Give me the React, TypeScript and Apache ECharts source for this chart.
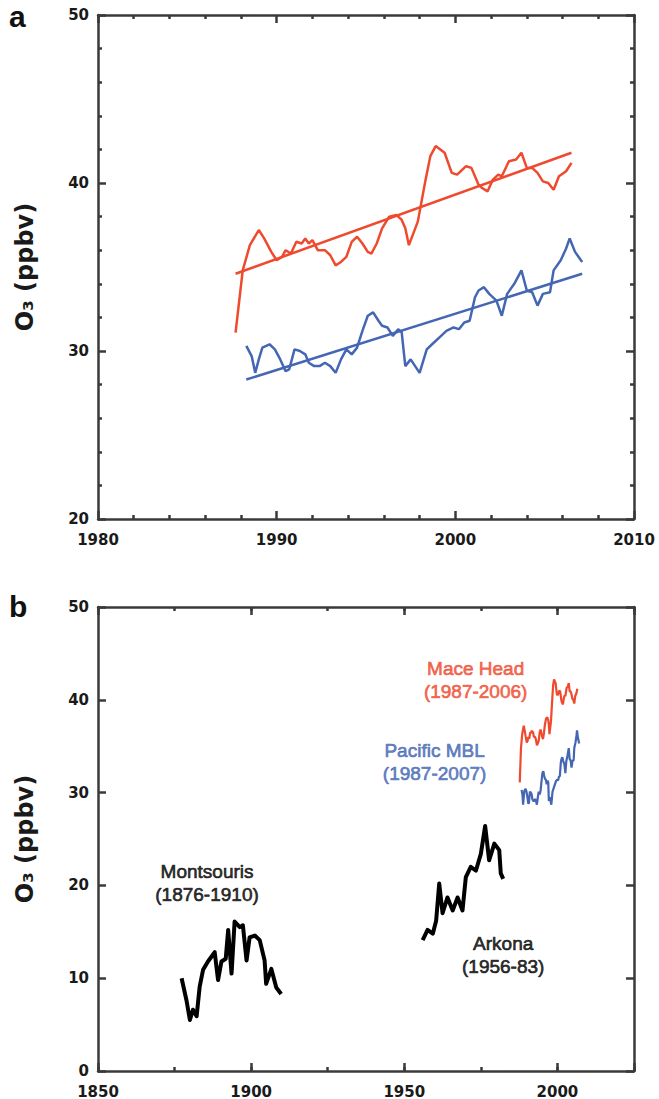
import React, { useEffect, useRef } from "react";
import * as echarts from "echarts";

// ---- Panel a / b data ----
const maceYears = [1987.7, 1988.1, 1988.5, 1989.0, 1989.3, 1989.7, 1990.0, 1990.3, 1990.5, 1990.8, 1991.1, 1991.4, 1991.6, 1991.8, 1992.0, 1992.3, 1992.7, 1993.0, 1993.3, 1993.6, 1993.9, 1994.2, 1994.5, 1994.8, 1995.1, 1995.3, 1995.6, 1995.9, 1996.3, 1996.7, 1997.0, 1997.2, 1997.4, 1997.9, 1998.3, 1998.6, 1998.9, 1999.4, 1999.8, 2000.1, 2000.6, 2000.9, 2001.3, 2001.5, 2001.8, 2002.1, 2002.4, 2002.6, 2003.0, 2003.4, 2003.7, 2004.0, 2004.3, 2004.6, 2004.9, 2005.2, 2005.5, 2005.8, 2006.2, 2006.5];
const maceO3 = [31.1, 34.8, 36.3, 37.2, 36.7, 35.9, 35.4, 35.6, 36.0, 35.8, 36.5, 36.4, 36.7, 36.4, 36.6, 36.0, 36.0, 35.7, 35.1, 35.3, 35.6, 36.5, 36.8, 36.4, 35.9, 35.8, 36.4, 37.3, 38.0, 38.1, 37.8, 37.3, 36.3, 37.7, 40.0, 41.6, 42.2, 41.8, 40.6, 40.5, 41.0, 40.9, 39.9, 39.7, 39.5, 40.2, 40.5, 40.4, 41.3, 41.4, 41.8, 40.9, 40.9, 40.6, 40.1, 40.0, 39.6, 40.4, 40.7, 41.2];
const maceTrendYears = [1987.7, 2006.5];
const maceTrendO3 = [34.6, 41.8];

const pacificYears = [1988.3, 1988.6, 1988.8, 1989.0, 1989.2, 1989.6, 1989.9, 1990.2, 1990.5, 1990.7, 1991.0, 1991.3, 1991.6, 1991.8, 1992.1, 1992.4, 1992.7, 1993.0, 1993.3, 1993.6, 1993.9, 1994.2, 1994.5, 1994.8, 1995.1, 1995.4, 1995.7, 1995.9, 1996.2, 1996.5, 1996.8, 1997.0, 1997.2, 1997.5, 1998.0, 1998.4, 1998.7, 1999.1, 1999.5, 1999.9, 2000.2, 2000.5, 2000.8, 2001.1, 2001.3, 2001.6, 2001.9, 2002.3, 2002.6, 2002.9, 2003.3, 2003.7, 2004.0, 2004.3, 2004.6, 2004.9, 2005.3, 2005.5, 2005.9, 2006.2, 2006.4, 2006.7, 2007.1];
const pacificO3 = [30.3, 29.7, 28.7, 29.5, 30.2, 30.4, 30.1, 29.5, 28.8, 28.9, 30.1, 30.0, 29.8, 29.3, 29.1, 29.1, 29.3, 29.1, 28.7, 29.5, 30.1, 29.8, 30.2, 31.2, 32.1, 32.3, 31.8, 31.5, 31.4, 30.9, 31.3, 31.1, 29.1, 29.5, 28.7, 30.1, 30.4, 30.8, 31.2, 31.4, 31.3, 31.7, 31.8, 33.2, 33.6, 33.8, 33.4, 33.0, 32.1, 33.4, 34.0, 34.8, 33.6, 33.5, 32.7, 33.4, 33.5, 34.8, 35.4, 36.1, 36.7, 35.9, 35.3];
const pacificTrendYears = [1988.3, 2007.1];
const pacificTrendO3 = [28.3, 34.6];

const montsourisYears = [1877.3, 1878.9, 1880.0, 1881.0, 1882.2, 1883.2, 1884.3, 1885.9, 1888.1, 1889.2, 1890.3, 1891.7, 1892.5, 1893.6, 1894.6, 1896.3, 1897.3, 1898.5, 1899.5, 1901.2, 1902.8, 1904.4, 1904.9, 1906.6, 1908.2, 1909.8];
const montsourisO3 = [10.0, 7.6, 5.5, 6.6, 5.9, 9.1, 10.9, 11.8, 12.8, 9.8, 11.8, 12.1, 15.2, 10.5, 16.1, 15.5, 15.7, 11.9, 14.4, 14.6, 14.1, 11.9, 9.4, 11.0, 9.0, 8.3];

const arkonaYears = [1956.0, 1957.6, 1959.3, 1960.4, 1961.4, 1962.5, 1964.1, 1965.8, 1967.4, 1969.0, 1970.1, 1971.7, 1973.4, 1975.0, 1976.4, 1977.7, 1979.4, 1981.0, 1981.5, 1982.3];
const arkonaO3 = [14.1, 15.2, 14.8, 16.2, 20.2, 17.0, 18.7, 17.3, 18.7, 17.3, 20.9, 22.0, 21.6, 23.4, 26.4, 22.7, 24.5, 23.8, 21.3, 20.7];

// annotation labels for panel b: anchor [year, ppbv] and text
const annotationTexts = ["Montsouris\n(1876-1910)", "Arkona\n(1956-83)", "Mace Head\n(1987-2006)", "Pacific MBL\n(1987-2007)"];
const annotationYears = [1885.6, 1982.3, 1973.3, 1959.9];
const annotationO3 = [20.3, 12.5, 42.1, 33.3];

const panelLetters = ["a", "b"];

const RED = "#ef4a2e";
const BLUE = "#4466b3";
const BLACK = "#000000";
const AXIS = "#3a3a3a";
const TICK_FONT = "DejaVu Sans";

const pairs = (xs: number[], ys: number[]) => xs.map((x, i) => [x, ys[i]]);

const lineStyle = { color: AXIS, width: 2.5 };

function xAx(grid: number, pos: string, min: number, max: number, interval: number, opts: any) {
  return {
    type: "value",
    gridIndex: grid,
    position: pos,
    min,
    max,
    interval,
    splitLine: { show: false },
    axisLine: { show: opts.line !== false, onZero: false, lineStyle },
    axisTick: { show: true, inside: true, length: opts.tickLen ?? 8, lineStyle },
    minorTick: opts.minor
      ? { show: true, splitNumber: opts.minor, length: 4, lineStyle }
      : { show: false },
    axisLabel: opts.labels
      ? {
          show: true,
          margin: 13,
          fontFamily: TICK_FONT,
          fontWeight: "bold",
          fontSize: 15,
          color: "#1a1a1a",
          showMinLabel: true,
          showMaxLabel: true,
          formatter: opts.fmt || ((v: number) => String(v)),
        }
      : { show: false },
  };
}

function yAx(grid: number, pos: string, min: number, max: number, interval: number, opts: any) {
  return {
    type: "value",
    gridIndex: grid,
    position: pos,
    min,
    max,
    interval,
    splitLine: { show: false },
    axisLine: { show: true, onZero: false, lineStyle },
    axisTick: { show: true, inside: true, length: 8, lineStyle },
    minorTick: opts.minor
      ? { show: true, splitNumber: opts.minor, length: 4, lineStyle }
      : { show: false },
    name: opts.labels ? "O₃ (ppbv)" : "",
    nameLocation: "middle",
    nameGap: 61,
    nameTextStyle: {
      fontFamily: TICK_FONT,
      fontWeight: "bold",
      fontSize: 24,
      color: "#1a1a1a",
    },
    axisLabel: opts.labels
      ? {
          show: true,
          margin: 9,
          fontFamily: TICK_FONT,
          fontWeight: "bold",
          fontSize: 15,
          color: "#1a1a1a",
          showMinLabel: true,
          showMaxLabel: true,
          formatter: (v: number) => String(v),
        }
      : { show: false },
  };
}

export default function App() {
  const ref = useRef<HTMLDivElement>(null);

  useEffect(() => {
    document.body.style.margin = "0";
    if (!ref.current) return;
    const chart = echarts.init(ref.current, null, { renderer: "svg" });

    const annColors = [BLACK, BLACK, RED, BLUE];

    const option: any = {
      animation: false,
      backgroundColor: "#ffffff",
      grid: [
        { left: 98, top: 15, width: 536, height: 504 },
        { left: 98, top: 607, width: 536, height: 464 },
      ],
      xAxis: [
        xAx(0, "bottom", 1980, 2010, 10, { labels: true, minor: 5 }),
        xAx(0, "top", 1980, 2010, 10, { minor: 5 }),
        xAx(1, "bottom", 1850, 2025, 50, {
          labels: true,
          fmt: (v: number) => (v % 50 === 0 ? String(v) : ""),
        }),
        xAx(1, "bottom", 1850, 2025, 25, { line: false, tickLen: 4 }),
        xAx(1, "top", 1850, 2025, 50, {}),
        xAx(1, "top", 1850, 2025, 25, { line: false, tickLen: 4 }),
      ],
      yAxis: [
        yAx(0, "left", 20, 50, 10, { labels: true, minor: 5 }),
        yAx(0, "right", 20, 50, 10, { minor: 5 }),
        yAx(1, "left", 0, 50, 10, { labels: true }),
        yAx(1, "right", 0, 50, 10, {}),
      ],
      graphic: panelLetters.map((t, i) => ({
        type: "text",
        left: 9,
        top: i === 0 ? 1 : 591,
        style: {
          text: t,
          fontFamily: "Liberation Sans",
          fontWeight: "bold",
          fontSize: 30,
          fill: "#111",
        },
      })),
      series: [
        {
          name: "Mace Head",
          type: "line",
          xAxisIndex: 0,
          yAxisIndex: 0,
          data: pairs(maceYears, maceO3),
          symbol: "none",
          lineStyle: { color: RED, width: 2.5 },
        },
        {
          name: "Mace Head trend",
          type: "line",
          xAxisIndex: 0,
          yAxisIndex: 0,
          data: pairs(maceTrendYears, maceTrendO3),
          symbol: "none",
          lineStyle: { color: RED, width: 2.5 },
        },
        {
          name: "Pacific MBL",
          type: "line",
          xAxisIndex: 0,
          yAxisIndex: 0,
          data: pairs(pacificYears, pacificO3),
          symbol: "none",
          lineStyle: { color: BLUE, width: 2.5 },
        },
        {
          name: "Pacific MBL trend",
          type: "line",
          xAxisIndex: 0,
          yAxisIndex: 0,
          data: pairs(pacificTrendYears, pacificTrendO3),
          symbol: "none",
          lineStyle: { color: BLUE, width: 2.5 },
        },
        {
          name: "Montsouris",
          type: "line",
          xAxisIndex: 2,
          yAxisIndex: 2,
          data: pairs(montsourisYears, montsourisO3),
          symbol: "none",
          lineStyle: { color: BLACK, width: 4, join: "round" },
        },
        {
          name: "Arkona",
          type: "line",
          xAxisIndex: 2,
          yAxisIndex: 2,
          data: pairs(arkonaYears, arkonaO3),
          symbol: "none",
          lineStyle: { color: BLACK, width: 4, join: "round" },
        },
        {
          name: "Mace Head (b)",
          type: "line",
          xAxisIndex: 2,
          yAxisIndex: 2,
          data: pairs(maceYears, maceO3),
          symbol: "none",
          lineStyle: { color: RED, width: 2.2 },
        },
        {
          name: "Pacific MBL (b)",
          type: "line",
          xAxisIndex: 2,
          yAxisIndex: 2,
          data: pairs(pacificYears, pacificO3),
          symbol: "none",
          lineStyle: { color: BLUE, width: 2.2 },
        },
        {
          name: "labels",
          type: "scatter",
          xAxisIndex: 2,
          yAxisIndex: 2,
          silent: true,
          symbolSize: 0,
          itemStyle: { color: "transparent" },
          data: annotationTexts.map((t, i) => ({
            value: [annotationYears[i], annotationO3[i]],
            label: {
              show: true,
              position: "inside",
              formatter: t,
              color: annColors[i],
              textBorderWidth: 0.7,
              textBorderColor: annColors[i],
              fontFamily: "Liberation Sans",
              fontSize: 19,
              lineHeight: 23,
              align: "center",
            },
          })),
        },
      ],
    };

    chart.setOption(option);
    return () => chart.dispose();
  }, []);

  return <div ref={ref} style={{ width: 659, height: 1099 }} />;
}
